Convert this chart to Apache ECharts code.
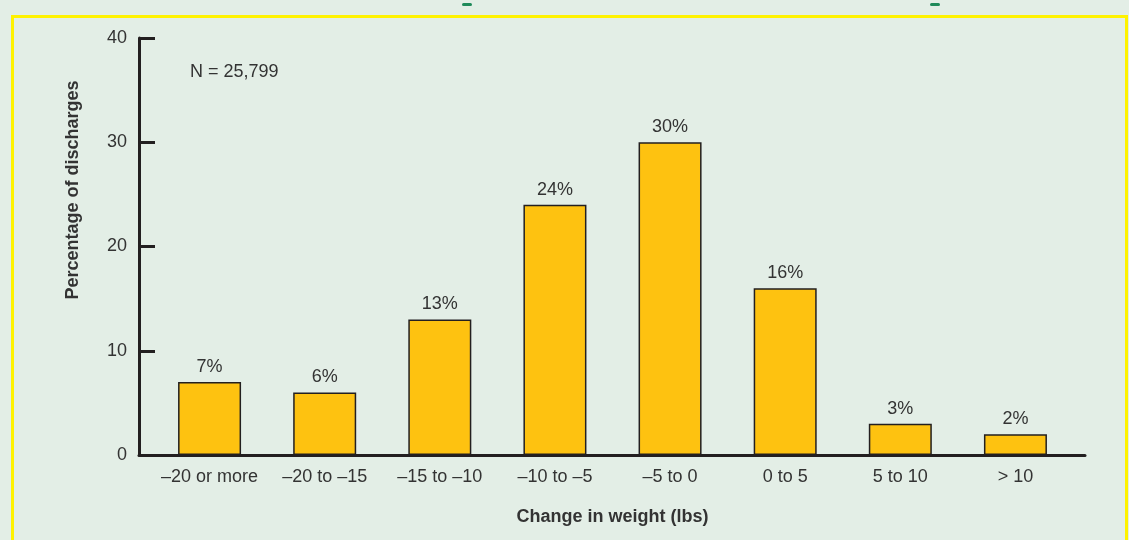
<!DOCTYPE html>
<html>
<head>
<meta charset="utf-8">
<script src="https://cdn.jsdelivr.net/npm/echarts@6/dist/echarts.min.js"></script>
<style>
html,body{margin:0;padding:0;background:#e3eee6;}
#main{width:1129px;height:540px;}
</style>
</head>
<body>
<div id="main"></div>
<script>
var categories = ['\u201320 or more', '\u201320 to \u201315', '\u201315 to \u201310', '\u201310 to \u20135', '\u20135 to 0', '0 to 5', '5 to 10', '> 10'];
var percents = [7, 6, 13, 24, 30, 16, 3, 2];
var yTicks = [0, 10, 20, 30, 40];
var noteText = 'N = 25,799';
var yName = 'Percentage of discharges';
var xName = 'Change in weight (lbs)';

var ink = '#231f20';
var textCol = '#333333';
var font = 'Liberation Sans, Arial, sans-serif';

var myChart = echarts.init(document.getElementById('main'));
var option = {
    backgroundColor: '#e3eee6',
    animation: false,
    textStyle: { fontFamily: font },
    grid: [
        { left: 152, right: 56, top: 38, bottom: 85 },
        { left: 139, right: 44, top: 38, bottom: 85 }
    ],
    xAxis: [
        {
            gridIndex: 0,
            type: 'category',
            data: categories,
            axisLine: { show: false },
            axisTick: { show: false },
            axisLabel: { fontSize: 18, color: textCol, margin: 13, interval: 0 },
            name: xName,
            nameLocation: 'middle',
            nameGap: 53,
            nameTextStyle: { fontSize: 18, fontWeight: 'bold', color: textCol }
        },
        {
            // just the baseline
            gridIndex: 1,
            type: 'value',
            min: 0, max: 1,
            axisLine: { show: true, lineStyle: { color: ink, width: 3 } },
            axisTick: { show: false },
            axisLabel: { show: false },
            splitLine: { show: false }
        }
    ],
    yAxis: [
        { gridIndex: 0, type: 'value', min: 0, max: 40, show: false },
        {
            gridIndex: 1,
            type: 'value',
            min: yTicks[0],
            max: yTicks[yTicks.length - 1],
            interval: yTicks[1] - yTicks[0],
            axisLine: { show: true, lineStyle: { color: ink, width: 3 } },
            axisTick: { show: true, inside: true, length: 16, lineStyle: { color: ink, width: 3 } },
            axisLabel: { fontSize: 18, color: textCol, margin: 12 },
            splitLine: { show: false }
        }
    ],
    series: [
        {
            type: 'bar',
            xAxisIndex: 0,
            yAxisIndex: 0,
            data: percents,
            barWidth: 63,
            itemStyle: { color: '#fec210', borderColor: ink, borderWidth: 1.5 },
            label: {
                show: true,
                position: 'top',
                distance: 6,
                fontSize: 18,
                color: textCol,
                formatter: '{c}%'
            }
        }
    ],
    graphic: [
        {
            type: 'rect',
            left: 10, top: 14,
            shape: { width: 1114, height: 540 },
            style: { fill: 'none', stroke: '#fff200', lineWidth: 3 },
            z: 10
        },
        { type: 'rect', left: 462, top: 3, shape: { width: 10, height: 3, r: 1.5 }, style: { fill: '#1f8a5a' } },
        { type: 'rect', left: 930, top: 3, shape: { width: 10, height: 3, r: 1.5 }, style: { fill: '#1f8a5a' } },
        {
            type: 'text',
            left: 190, top: 63,
            style: { text: noteText, fontSize: 18, fill: textCol, fontFamily: font }
        },
        {
            type: 'text',
            x: 73, y: 190,
            rotation: Math.PI / 2,
            style: {
                text: yName, fontSize: 18, fontWeight: 'bold', fill: textCol, fontFamily: font,
                align: 'center', verticalAlign: 'middle'
            }
        }
    ]
};
myChart.setOption(option);
</script>
</body>
</html>
